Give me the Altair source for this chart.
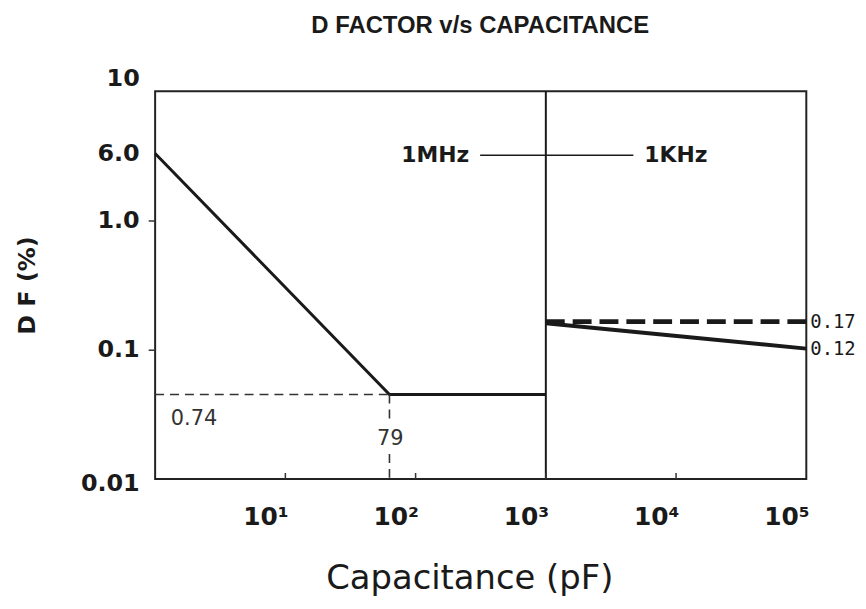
import altair as alt
import pandas as pd

# ---------------- data ----------------
TITLE = "D FACTOR v/s CAPACITANCE"
# main curve, 1 MHz region (capacitance pF, DF %)
LEFT_X = [1, 63, 1000]
LEFT_Y = [3.3, 0.045, 0.045]
# 1 kHz region
RIGHT_SOLID_X = [1000, 100000]
RIGHT_SOLID_Y = [0.16, 0.102]
RIGHT_DASH_X = [1000, 100000]
RIGHT_DASH_Y = [0.165, 0.165]
# guide lines
H_GUIDE_X = [1, 63]
H_GUIDE_Y = [0.045, 0.045]
V_GUIDE_X = [63, 63, 63, 63]
V_GUIDE_Y = [0.045, 0.0265, 0.0156, 0.01]
V_GUIDE_SEG = ["a", "a", "b", "b"]
DIVIDER_X = [1000]
# 1MHz / 1KHz connector
CONN_X = [313, 4700]
CONN_Y = [3.2, 3.2]
# inner x ticks
INNER_TICKS = [10, 100, 1000, 10000]

Y_TICKS = [0.01, 0.1, 1, 3.3, 10]
Y_TICK_LABELS = ["0.01", "0.1", "1.0", "6.0", "10"]
X_TICKS = [10, 100, 1000, 10000, 100000]
X_TICK_LABELS = ["10¹", "10²", "10³", "10⁴", "10⁵"]

FONT = "Liberation Sans"
WIDE = "DejaVu Sans"
MONO = "DejaVu Sans Mono"
INK = "#1a1a1a"

xs = alt.Scale(type="log", domain=[1, 100000])
ys = alt.Scale(type="log", domain=[0.01, 10])


def label_expr(vals, labels):
    expr = "''"
    for v, l in zip(vals, labels):
        expr = f"abs(datum.value - {v}) < {v} * 0.05 ? '{l}' : " + expr
    return expr


y_axis = alt.Axis(
    values=Y_TICKS,
    labelExpr=label_expr(Y_TICKS, Y_TICK_LABELS),
    labelFont=WIDE, labelFontSize=24, labelFontWeight="bold", labelColor=INK,
    labelOverlap=False, labelFlush=False,
    tickSize=7, tickColor="#333", tickWidth=1.5,
    tickOpacity={"condition": {"test": "datum.value > 0.05 && datum.value < 2", "value": 1}, "value": 0},
    labelOffset={"condition": [{"test": "datum.value >= 9", "value": -13},
                               {"test": "datum.value <= 0.011", "value": 5}], "value": 0},
    labelPadding=9, domain=False, grid=False,
    title="D F (%)", titleFont=WIDE, titleFontSize=24, titleFontWeight="bold", titleColor=INK,
    titleX=-128, titleY=195, titleAngle=270, titleAlign="center", titleBaseline="middle",
)
x_axis = alt.Axis(
    values=X_TICKS,
    labelExpr=label_expr(X_TICKS, X_TICK_LABELS),
    labelFont=WIDE, labelFontSize=25, labelFontWeight="bold", labelColor=INK,
    labelOverlap=False, labelFlush=False, labelAlign="center", labelOffset=-20,
    labelBaseline="middle", labelPadding=38, ticks=False, domain=False, grid=False,
    title="Capacitance (pF)", titleFont=WIDE, titleFontSize=34, titleFontWeight="normal",
    titleColor=INK, titleBaseline="alphabetic", titleX=316, titleY=110,
)


def xq():
    return alt.X("x:Q", scale=xs, axis=x_axis)


def yq():
    return alt.Y("y:Q", scale=ys, axis=y_axis)


main_left = alt.Chart(pd.DataFrame({"x": LEFT_X, "y": LEFT_Y})).mark_line(
    color=INK, strokeWidth=3).encode(x=xq(), y=yq())
right_solid = alt.Chart(pd.DataFrame({"x": RIGHT_SOLID_X, "y": RIGHT_SOLID_Y})).mark_line(
    color=INK, strokeWidth=4).encode(x=xq(), y=yq())
right_dash = alt.Chart(pd.DataFrame({"x": RIGHT_DASH_X, "y": RIGHT_DASH_Y})).mark_line(
    color=INK, strokeWidth=5, strokeDash=[19, 8]).encode(x=xq(), y=yq())

h_guide = alt.Chart(pd.DataFrame({"x": H_GUIDE_X, "y": H_GUIDE_Y})).mark_line(
    color="#333", strokeWidth=1.6, strokeDash=[9, 6]).encode(x=xq(), y=yq())
v_guide = alt.Chart(pd.DataFrame({"x": V_GUIDE_X, "y": V_GUIDE_Y, "s": V_GUIDE_SEG})).mark_line(
    color="#333", strokeWidth=1.6, strokeDash=[9, 6]).encode(x=xq(), y=yq(), detail="s:N")

divider = alt.Chart(pd.DataFrame({"x": DIVIDER_X})).mark_rule(color=INK, strokeWidth=2).encode(
    x=xq(), y=alt.value(0), y2=alt.value(390))

inner_ticks = alt.Chart(pd.DataFrame({"x": INNER_TICKS})).mark_rule(color="#333", strokeWidth=1.5).encode(
    x=xq(), y=alt.value(390), y2=alt.value(384))

conn = alt.Chart(pd.DataFrame({"x": CONN_X, "y": CONN_Y})).mark_line(
    color=INK, strokeWidth=1.5).encode(x=xq(), y=yq())


def text_layer(x, y, t, align="left", size=18, weight="normal", color=INK, dx=0, font=WIDE):
    return alt.Chart(pd.DataFrame({"x": [x], "y": [y], "t": [t]})).mark_text(
        font=font, fontSize=size, fontWeight=weight, color=color, align=align,
        baseline="middle", dx=dx).encode(x=xq(), y=yq(), text="t:N")


texts = [
    text_layer(258, 3.2, "1MHz", align="right", size=22, weight="bold"),
    text_layer(5700, 3.2, "1KHz", align="left", size=22, weight="bold"),
    text_layer(1.32, 0.029, "0.74", align="left", size=21, color="#333"),
    text_layer(64, 0.0203, "79", align="center", size=21, color="#333"),
    text_layer(100000, 0.165, "0.17", align="left", size=19, dx=4, font=MONO),
    text_layer(100000, 0.102, "0.12", align="left", size=19, dx=4, font=MONO),
]

title = alt.Chart(pd.DataFrame({"t": [TITLE]})).mark_text(
    font=FONT, fontSize=24, fontWeight="bold", color=INK, align="center", baseline="alphabetic"
).encode(x=alt.value(327), y=alt.value(-59), text="t:N")

chart = alt.layer(
    main_left, h_guide, v_guide, divider, inner_ticks, conn, right_solid, right_dash, *texts, title
).properties(
    width=655, height=390,
    background="white",
    autosize=alt.AutoSizeParams(type="none"),
    padding={"left": 148, "top": 82, "right": 52, "bottom": 118},
).configure_view(stroke="#222", strokeWidth=2)

chart.save("out.html", embed_options={"renderer": "svg", "actions": False})
